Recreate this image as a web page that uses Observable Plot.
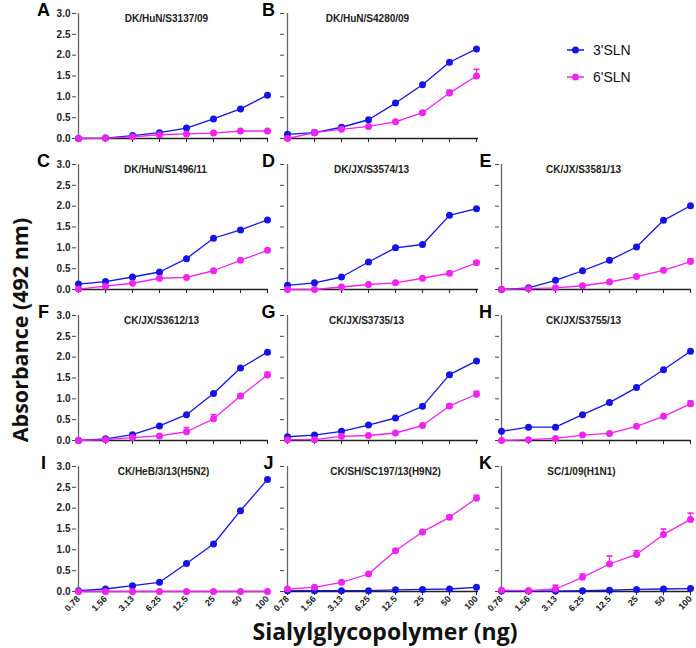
<!DOCTYPE html>
<html><head><meta charset="utf-8">
<script src="https://cdn.jsdelivr.net/npm/d3@7"></script>
<script src="https://cdn.jsdelivr.net/npm/@observablehq/plot@0.6"></script>
<style>
body{margin:0;background:#fff;}
#root{position:relative;width:696px;height:648px;overflow:hidden;background:#fff;}
#root svg.pl{position:absolute;overflow:visible;}
.ytitle{position:absolute;left:-130px;top:316px;width:300px;text-align:center;transform:rotate(-90deg);font:bold 21.5px "Open Sans",sans-serif;line-height:28px;color:#111;}
.xtitle{position:absolute;left:185px;top:617px;width:400px;text-align:center;font:bold 23px "Open Sans",sans-serif;line-height:28px;color:#111;}
.leg{position:absolute;left:565px;font:14px "Liberation Sans",Arial,sans-serif;color:#111;display:flex;align-items:center;}
.leg svg{margin-right:8px;}
</style></head><body><div id="root"></div>
<script>
const doses = ["0.78","1.56","3.13","6.25","12.5","25","50","100"];
const glycans = ["3'SLN","6'SLN"];
const glycanColors = ["#1414e6","#f023f0"];
const yTicks = [0,0.5,1.0,1.5,2.0,2.5,3.0];

const panelLetters = ["A","B","C","D","E","F","G","H","I","J","K"];
const panelTitles = ["DK/HuN/S3137/09","DK/HuN/S4280/09","DK/HuN/S1496/11","DK/JX/S3574/13","CK/JX/S3581/13",
  "CK/JX/S3612/13","CK/JX/S3735/13","CK/JX/S3755/13","CK/HeB/3/13(H5N2)","CK/SH/SC197/13(H9N2)","SC/1/09(H1N1)"];

const A3 = [0.00,0.01,0.07,0.14,0.25,0.47,0.71,1.04];
const A6 = [0.00,0.01,0.04,0.09,0.11,0.13,0.18,0.18];
const B3 = [0.10,0.14,0.27,0.45,0.85,1.29,1.83,2.15];
const B6 = [0.00,0.14,0.22,0.29,0.40,0.62,1.09,1.50];
const B6err = [0,0.06,0,0,0,0.03,0.07,0.16];
const C3 = [0.13,0.19,0.30,0.42,0.74,1.23,1.43,1.67];
const C6 = [0.01,0.08,0.15,0.27,0.29,0.45,0.70,0.94];
const D3 = [0.10,0.16,0.30,0.66,1.00,1.08,1.78,1.94];
const D6 = [0.00,0.00,0.06,0.12,0.16,0.27,0.39,0.64];
const D6err = [0,0,0,0,0,0,0.03,0.04];
const E3 = [0.00,0.04,0.22,0.45,0.70,1.02,1.66,2.01];
const E6 = [0.00,0.02,0.04,0.09,0.18,0.31,0.46,0.67];
const E6err = [0,0,0,0,0,0,0.03,0.07];
const F3 = [0.00,0.04,0.14,0.35,0.62,1.13,1.74,2.12];
const F6 = [0.00,0.02,0.07,0.11,0.21,0.52,1.07,1.57];
const F6err = [0,0,0,0,0.10,0.10,0.04,0.07];
const G3 = [0.09,0.13,0.22,0.37,0.54,0.82,1.58,1.91];
const G6 = [0.02,0.02,0.10,0.12,0.18,0.36,0.83,1.11];
const G6err = [0,0,0,0,0,0,0.03,0.07];
const H3 = [0.22,0.32,0.32,0.62,0.91,1.27,1.70,2.14];
const H6 = [0.00,0.02,0.05,0.13,0.17,0.34,0.58,0.88];
const H6err = [0,0,0,0,0,0,0.03,0.07];
const I3 = [0.02,0.06,0.14,0.22,0.67,1.14,1.94,2.69];
const I6 = [0.00,0.00,0.00,0.00,0.00,0.00,0.00,0.00];
const J3 = [0.02,0.02,0.02,0.02,0.04,0.05,0.06,0.10];
const J6 = [0.06,0.10,0.22,0.42,0.98,1.43,1.78,2.24];
const J6err = [0,0,0,0,0.04,0.03,0.05,0.07];
const K3 = [0.01,0.01,0.01,0.02,0.03,0.05,0.06,0.07];
const K6 = [0.03,0.02,0.06,0.34,0.66,0.89,1.37,1.73];
const K6err = [0,0,0.09,0.08,0.19,0.09,0.13,0.15];

const series3 = [A3,B3,C3,D3,E3,F3,G3,H3,I3,J3,K3];
const series6 = [A6,B6,C6,D6,E6,F6,G6,H6,I6,J6,K6];
const errors6 = [null,B6err,null,D6err,E6err,F6err,G6err,H6err,null,J6err,K6err];

// layout
const panelCol = [0,1,0,1,2,0,1,2,0,1,2];
const panelRow = [0,0,1,1,1,2,2,2,3,3,3];
const colLeft = [76,284,499], colRight = [268,478,691];
const rowTop = [13,164,315,466], rowH = 125;
const titleDx = [-6,-14,-7,-10,-12,-11,-15,-12,-9,4,-14];
const letterDx = [-33,-16,-14];
const capSymbol = {draw(ctx) { ctx.moveTo(-3, 0); ctx.lineTo(3, 0); }};

const root = document.getElementById("root");

panelLetters.forEach((letter, p) => {
  const c = panelCol[p], r = panelRow[p];
  const rows = [];
  doses.forEach((d, i) => {
    rows.push({dose: d, glycan: glycans[0], v: series3[p][i], e: 0});
    rows.push({dose: d, glycan: glycans[1], v: series6[p][i], e: errors6[p] ? errors6[p][i] : 0});
  });
  const errRows = rows.filter(d => d.e > 0);
  const ml = 50, mr = 10, mt = 13, mb = 44;
  const w = colRight[c] - colLeft[c];
  const bottom = r === 3;
  const svg = Plot.plot({
    width: w + ml + mr, height: rowH + mt + mb,
    marginLeft: ml, marginRight: mr, marginTop: mt, marginBottom: mb,
    style: {background: "transparent", overflow: "visible", fontFamily: "'Liberation Sans', Arial, sans-serif", color: "#222"},
    x: {type: "point", domain: doses, padding: 0, axis: null},
    y: {domain: [0, 3], axis: null},
    color: {domain: glycans, range: glycanColors},
    marks: [
      Plot.axisY({ticks: yTicks, label: null, tickSize: 4, tickPadding: 2, fontSize: 10, fontWeight: "bold",
        stroke: "#444", tickFormat: c === 0 ? d3.format(".1f") : () => ""}),
      Plot.axisX({label: null, tickSize: 4, tickPadding: 2, fontSize: 9, fontWeight: "bold", stroke: "#222",
        tickRotate: bottom ? -45 : 0, tickFormat: bottom ? (d => d) : () => ""}),
      Plot.ruleX(doses.slice(0, 1), {y1: 0, y2: 3, stroke: "#666", strokeWidth: 1.3}),
      Plot.ruleY([0], {stroke: "#222", strokeWidth: 1.3}),
      Plot.ruleX(errRows, {x: "dose", y1: "v", y2: d => d.v + d.e, stroke: "glycan", strokeWidth: 1.3}),
      Plot.dot(errRows, {x: "dose", y: d => d.v + d.e, stroke: "glycan", symbol: capSymbol, strokeWidth: 1.6}),
      Plot.line(rows, {x: "dose", y: "v", z: "glycan", stroke: "glycan", strokeWidth: 1.3}),
      Plot.dot(rows, {x: "dose", y: "v", fill: "glycan", r: 3.5}),
      Plot.text([panelTitles[p]], {frameAnchor: "top", dx: titleDx[p], dy: 5, lineAnchor: "middle", fontSize: 10, fontWeight: "bold", fill: "#222"}),
      Plot.text([letter], {frameAnchor: "top-left", textAnchor: "middle", dx: letterDx[c], dy: -3, lineAnchor: "middle", fontSize: 18, fontWeight: "bold", fill: "#000", fontFamily: "'Liberation Sans', Arial, sans-serif"})
    ]
  });
  svg.classList.add("pl");
  svg.style.left = (colLeft[c] - ml) + "px";
  svg.style.top = (rowTop[r] - mt) + "px";
  root.appendChild(svg);
});

// legend
glycans.forEach((g, i) => {
  const div = document.createElement("div");
  div.className = "leg";
  div.style.top = (41 + i * 27) + "px";
  div.innerHTML = `<svg width="20" height="18"><line x1="2" x2="19" y1="9" y2="9" stroke="${glycanColors[i]}" stroke-width="1.5"/><circle cx="10.5" cy="9" r="3.5" fill="${glycanColors[i]}"/></svg><span>${g}</span>`;
  root.appendChild(div);
});

const yt = document.createElement("div");
yt.className = "ytitle"; yt.textContent = "Absorbance (492 nm)";
root.appendChild(yt);
const xt = document.createElement("div");
xt.className = "xtitle"; xt.textContent = "Sialylglycopolymer (ng)";
root.appendChild(xt);
</script></body></html>
